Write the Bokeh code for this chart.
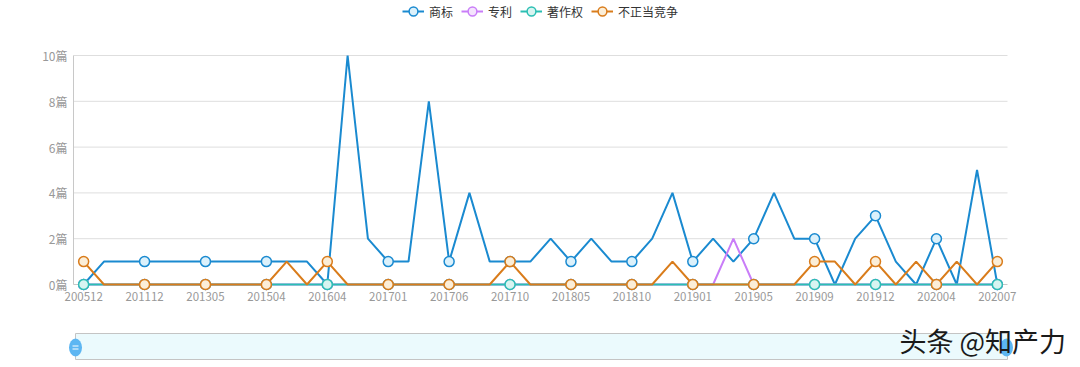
import numpy as np
from bokeh.plotting import figure
from bokeh.models import Range1d, FixedTicker, Legend, LegendItem, ColumnDataSource
from bokeh.embed import file_html
from bokeh.resources import INLINE
from bokeh.core.properties import value

# ---------------- data ----------------
months = ["200512", "200807", "201003", "201112", "201203", "201209", "201305", "201309",
          "201408", "201504", "201509", "201512", "201604", "201607", "201610", "201701",
          "201703", "201704", "201706", "201707", "201708", "201710", "201801", "201803",
          "201805", "201807", "201808", "201810", "201811", "201812", "201901", "201902",
          "201903", "201905", "201906", "201907", "201909", "201910", "201911", "201912",
          "202001", "202003", "202004", "202005", "202006", "202007"]

trademark = [0, 1, 1, 1, 1, 1, 1, 1, 1, 1, 1, 1, 0, 10, 2, 1, 1, 8, 1, 4, 1, 1, 1, 2,
             1, 2, 1, 1, 2, 4, 1, 2, 1, 2, 4, 2, 2, 0, 2, 3, 1, 0, 2, 0, 5, 0]
patent = [0] * 32 + [2] + [0] * 13
copyright_ = [0] * 46
unfair = [1, 0, 0, 0, 0, 0, 0, 0, 0, 0, 1, 0, 1, 0, 0, 0, 0, 0, 0, 0, 0, 1, 0, 0,
          0, 0, 0, 0, 0, 1, 0, 0, 0, 0, 0, 0, 1, 1, 0, 1, 0, 1, 0, 1, 0, 1]

series_names = ["商标", "专利", "著作权", "不正当竞争"]
series_values = [trademark, patent, copyright_, unfair]
line_colors = ["#1a8ad0", "#c97df8", "#2bbfb3", "#d97c1b"]
marker_fills = ["#dcf1fb", "#f4e4fd", "#d8f4f1", "#fbeed8"]
y_ticks = [0, 2, 4, 6, 8, 10]
y_max = 10
y_unit = "篇"
label_step = 3
watermark = "头条 @知产力"

FONT = "Noto Sans CJK SC"
W, H = 1080, 367
FL, FR, FT, FB = 73, 1007, 55, 284   # where the value axes sit on the canvas (pixels)

# data ranges extended so that the axes land on FL..FR / FT..FB while the frame fills the canvas
n = len(months)
x0, x1 = -0.5, n - 0.5
ppx = (FR - FL) / (x1 - x0)
ppy = (FB - FT) / (y_max - 0)
x_range = Range1d(x0 - FL / ppx, x1 + (W - FR) / ppx)
y_range = Range1d(0 - (H - FB) / ppy, y_max + FT / ppy)

p = figure(width=W, height=H, output_backend="svg", toolbar_location=None,
           x_range=x_range, y_range=y_range,
           min_border=0, min_border_left=0, min_border_right=0,
           min_border_top=0, min_border_bottom=0)
p.outline_line_color = None
p.background_fill_color = "white"
p.border_fill_color = "white"
p.xgrid.visible = False
p.ygrid.visible = False
p.extra_x_ranges = {"px": Range1d(0, W)}
p.extra_y_ranges = {"px": Range1d(H, 0)}

# horizontal grid lines
p.segment(x0=[x0] * len(y_ticks[1:]), x1=[x1] * len(y_ticks[1:]), y0=y_ticks[1:], y1=y_ticks[1:],
          line_color="#dedede", line_width=1, level="underlay")

x_idx = np.arange(n)
items = []
for name, vals, lc, mf in zip(series_names, series_values, line_colors, marker_fills):
    src = ColumnDataSource(dict(x=x_idx, y=vals))
    lr = p.line("x", "y", source=src, line_color=lc, line_width=2)
    sel = [i for i in range(n) if i % label_step == 0]
    msrc = ColumnDataSource(dict(x=[x_idx[i] for i in sel], y=[vals[i] for i in sel]))
    sr = p.scatter("x", "y", source=msrc, size=10, marker="circle", fill_color=mf,
                   line_color=lc, line_width=1.5)
    items.append(LegendItem(label=name, renderers=[lr, sr]))

legend = Legend(items=items, orientation="horizontal", location=(402, H - 28 + 5),
                label_text_font=FONT, label_text_font_size="12px", label_text_color="#333333",
                glyph_width=22, glyph_height=24, label_standoff=5, spacing=8,
                border_line_color=None, background_fill_alpha=0, padding=2, margin=0)
p.add_layout(legend, "center")

# axes pinned at the value origin, drawn beneath the series
xa, ya = p.xaxis[0], p.yaxis[0]
xa.fixed_location = 0
xa.bounds = (x0, x1)
ya.fixed_location = x0
ya.bounds = (0, y_max)
xa.ticker = FixedTicker(ticks=[i for i in range(n) if i % label_step == 0])
xa.major_label_overrides = {i: m for i, m in enumerate(months)}
ya.ticker = FixedTicker(ticks=y_ticks)
ya.major_label_overrides = {t: f"{t}{y_unit}" for t in y_ticks}
for ax in (xa, ya):
    ax.level = "underlay"
    ax.major_label_text_font = FONT
    ax.major_label_text_color = "#999999"
    ax.axis_line_color = "#c8c8c8"
    ax.major_tick_line_color = None
    ax.minor_tick_line_color = None
ya.major_label_text_font_size = "12px"
ya.major_tick_out = 0
ya.major_label_standoff = 6
xa.major_label_text_font_size = "11.5px"
xa.major_label_standoff = 1

# ---------------- data-zoom slider (decoration, canvas pixels) ----------------
p.quad(left=[75], right=[1007], top=[333], bottom=[359], x_range_name="px", y_range_name="px",
       fill_color="#ebfafd", line_color="#c4c4c4", line_width=1)
p.ellipse(x=[75, 1006], y=[347, 347], width=13, height=18, x_range_name="px", y_range_name="px",
          fill_color="#5db6f2", line_color=None)
p.segment(x0=[72, 72], y0=[345.5, 348.5], x1=[78, 78], y1=[345.5, 348.5],
          x_range_name="px", y_range_name="px", line_color="white", line_width=1)
p.text(x=[899], y=[340], text=[watermark], x_range_name="px", y_range_name="px",
       text_font=value(FONT), text_font_size="27px", text_color="#1a1a1a",
       text_baseline="middle", text_align="left")

open("out.html", "w").write(file_html(p, INLINE))
